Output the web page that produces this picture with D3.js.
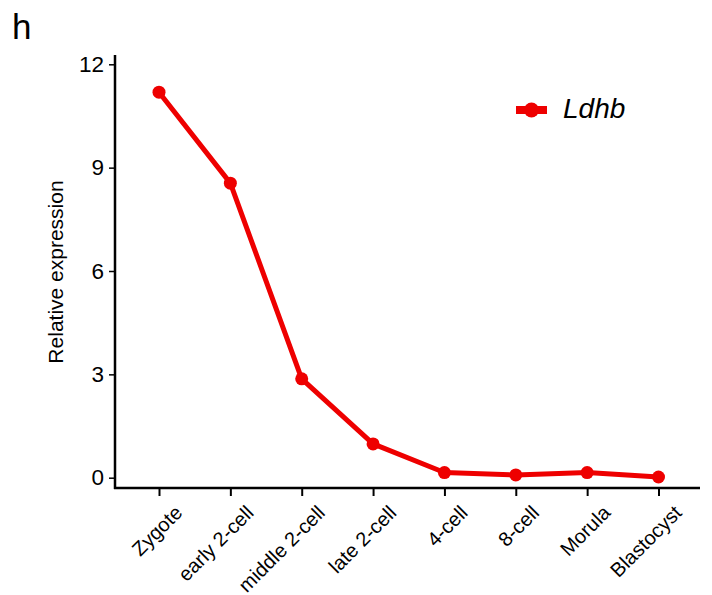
<!DOCTYPE html>
<html><head><meta charset="utf-8">
<script src="https://cdn.jsdelivr.net/npm/d3@7"></script>
<style>body{margin:0;background:#fff;} text{font-family:"Liberation Sans",Arial,sans-serif;}</style>
</head><body>
<svg id="chart" width="712" height="595"></svg>
<script>
const categories = ["Zygote","early 2-cell","middle 2-cell","late 2-cell","4-cell","8-cell","Morula","Blastocyst"];
const ldhbValues = [11.19, 8.55, 2.87, 0.98, 0.15, 0.08, 0.15, 0.02];
const yTicks = [0, 3, 6, 9, 12];
const seriesName = "Ldhb";

const svg = d3.select("#chart");
const red = "#ee0000";

const x = d3.scalePoint().domain(categories).range([159, 658.5]);
const y = d3.scaleLinear().domain([0, 12]).range([477.7, 64.3]);

// panel letter
svg.append("text").attr("x", 12).attr("y", 39).attr("font-size", 35).text("h");

// y axis
const yAxis = svg.append("g").attr("transform", "translate(115,0)")
  .call(d3.axisLeft(y).tickValues(yTicks).tickSize(6).tickSizeOuter(0).tickPadding(5));
yAxis.select(".domain").remove();
svg.append("line").attr("x1",115).attr("x2",115).attr("y1",55).attr("y2",489)
  .attr("stroke","#000").attr("stroke-width",2.5);
yAxis.selectAll(".tick line").attr("stroke-width",1.5);
yAxis.selectAll(".tick text").attr("font-size",22.5).attr("fill","#000")
  .attr("font-family","Liberation Sans, Arial, sans-serif");

// x axis
const xAxis = svg.append("g").attr("transform", "translate(0,488)")
  .call(d3.axisBottom(x).tickSize(8).tickSizeOuter(0));
xAxis.select(".domain").remove();
svg.append("line").attr("x1",114).attr("x2",700).attr("y1",488).attr("y2",488)
  .attr("stroke","#000").attr("stroke-width",2.5);
xAxis.selectAll(".tick line").attr("stroke-width",2);
xAxis.selectAll(".tick text").attr("font-size",20).attr("fill","#000")
  .attr("font-family","Liberation Sans, Arial, sans-serif")
  .attr("text-anchor","end")
  .attr("dy",null)
  .attr("transform","translate(24,26) rotate(-45)")
  .attr("y",0).attr("x",0);

// y label
svg.append("text").attr("transform","translate(63,272) rotate(-90)")
  .attr("text-anchor","middle").attr("font-size",21).text("Relative expression");

// line
const line = d3.line().x((d,i)=>x(categories[i])).y(d=>y(d));
svg.append("path").datum(ldhbValues).attr("d", line)
  .attr("fill","none").attr("stroke",red).attr("stroke-width",5).attr("stroke-linejoin","round");
svg.selectAll("circle.pt").data(ldhbValues).enter().append("circle")
  .attr("class","pt").attr("cx",(d,i)=>x(categories[i])).attr("cy",d=>y(d))
  .attr("r",6.5).attr("fill",red);

// legend
svg.append("line").attr("x1",516).attr("x2",547).attr("y1",110).attr("y2",110)
  .attr("stroke",red).attr("stroke-width",8);
svg.append("circle").attr("cx",531.5).attr("cy",110).attr("r",7.5).attr("fill",red);
svg.append("text").attr("x",563).attr("y",118).attr("font-size",28)
  .attr("font-style","italic").text(seriesName);
</script>
</body></html>
